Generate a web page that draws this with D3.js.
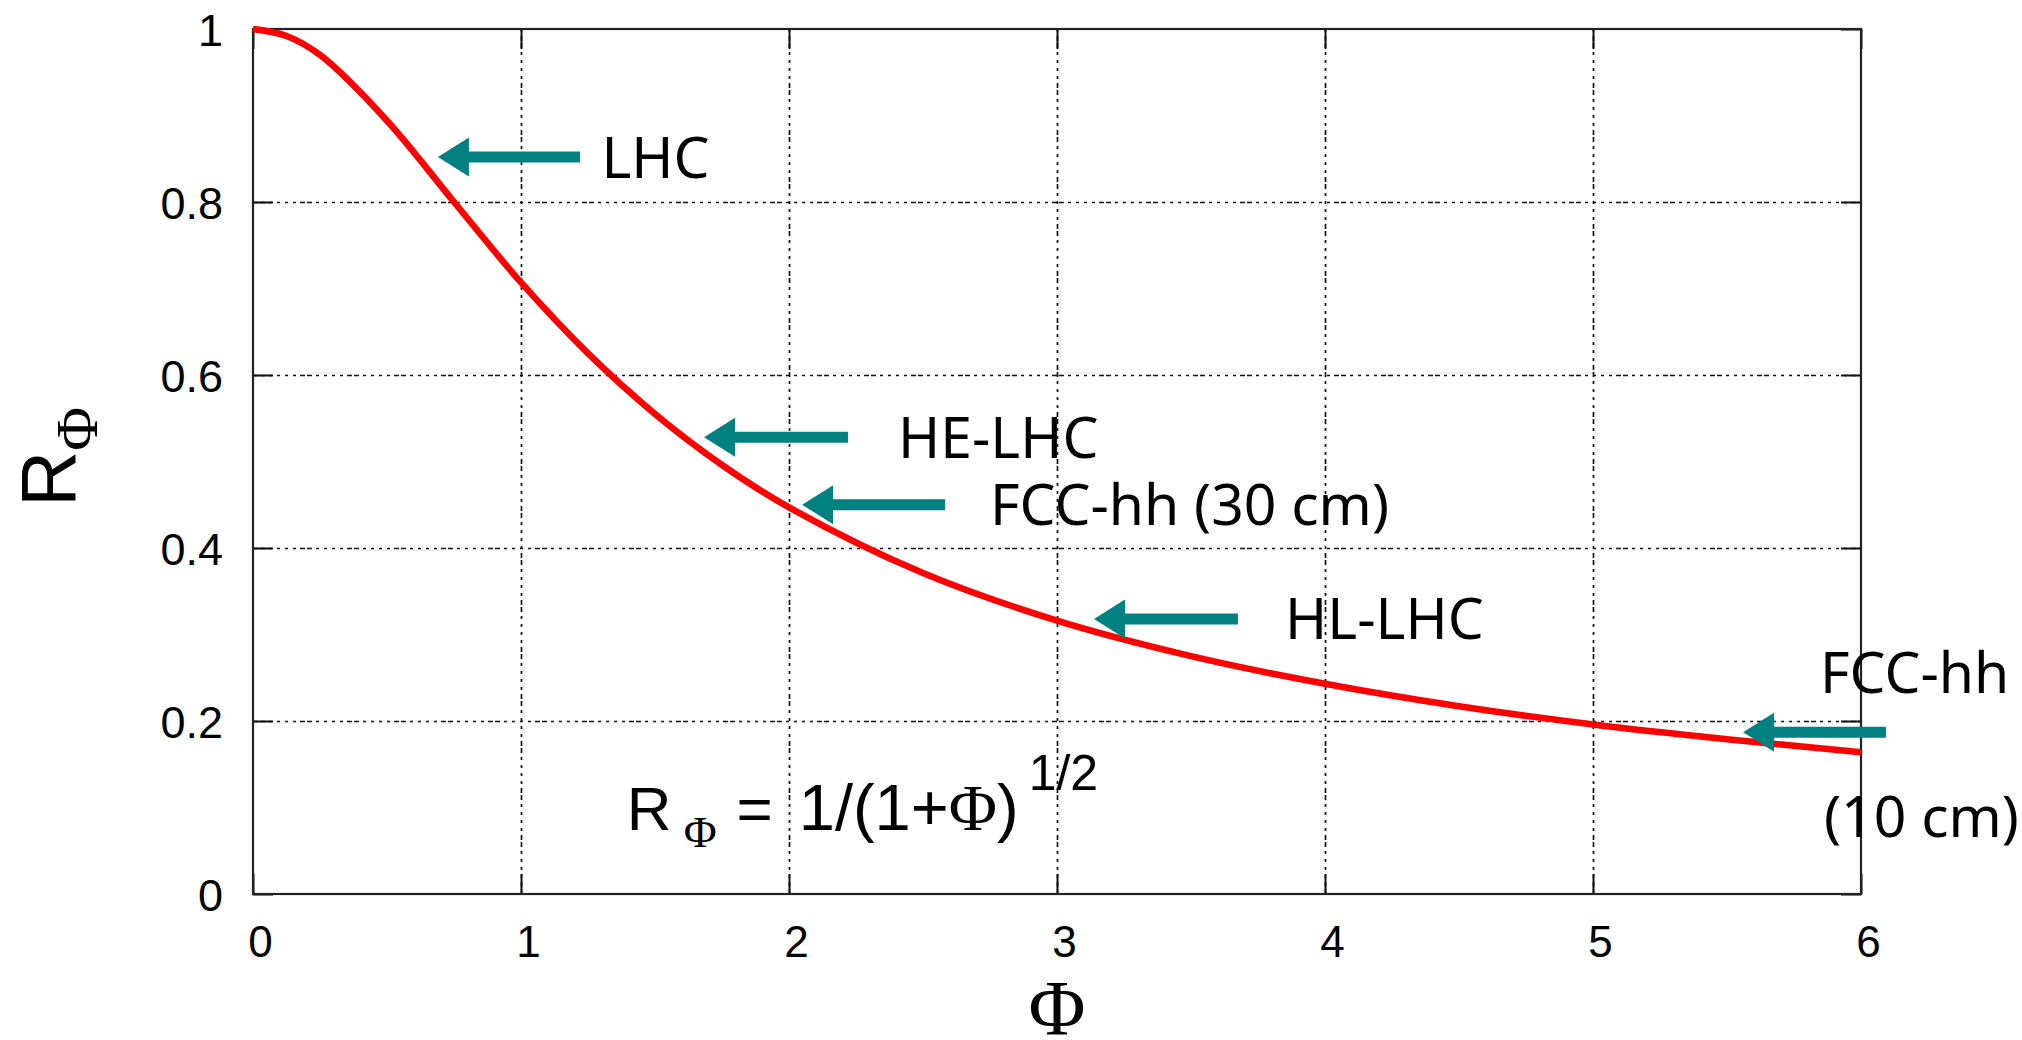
<!DOCTYPE html>
<html>
<head>
<meta charset="utf-8">
<script src="https://cdn.jsdelivr.net/npm/d3@7"></script>
<style>
	html, body { margin: 0; padding: 0; background: #fff; }
	svg { display: block; }
	.tick text { font-family: "Liberation Sans", Arial, sans-serif; fill: #000; }
	.note { font-family: "Noto Sans", sans-serif; fill: #000; }
</style>
</head>
<body>
<svg id="chart" width="2022" height="1040"></svg>
<script>
// curve R_phi
var phiValues = [0, 0.125, 0.25, 0.5, 0.75, 1, 1.25, 1.5, 1.75, 2, 2.5, 3, 3.5, 4, 4.5, 5, 5.5, 6];
var rValues   = [1.000, 0.992, 0.970, 0.894, 0.800, 0.707, 0.625, 0.555, 0.496, 0.447, 0.371, 0.316, 0.275, 0.243, 0.217, 0.196, 0.179, 0.164];

var xTicks = [0, 1, 2, 3, 4, 5, 6];
var yTicks = [0, 0.2, 0.4, 0.6, 0.8, 1];
var yTickLabels = ["0", "0.2", "0.4", "0.6", "0.8", "1"];

// arrows (tip / tail in phi, height in R)
var arrowTip  = [0.69, 1.683, 2.049, 3.138, 5.56];
var arrowTail = [1.22, 2.22, 2.582, 3.675, 6.093];
var arrowR    = [0.852, 0.528, 0.450, 0.318, 0.187];

var labelText = ["LHC", "HE-LHC", "FCC-hh (30 cm)", "HL-LHC", "FCC-hh", "(10 cm)"];
var labelPhi  = [1.30, 2.407, 2.75, 3.851, 5.847, 5.862];
var labelR    = [0.852, 0.528, 0.450, 0.318, 0.256, 0.090];

var margin = {top: 29, right: 161, bottom: 146, left: 253};
var W = 2022, H = 1040;
var innerW = W - margin.left - margin.right,
	innerH = H - margin.top - margin.bottom;

var svg = d3.select("#chart");
var g = svg.append("g").attr("transform", "translate(" + margin.left + "," + margin.top + ")");

var x = d3.scaleLinear().domain([0, 6]).range([0, innerW]);
var y = d3.scaleLinear().domain([0, 1]).range([innerH, 0]);

var dash = "5,2,5,4,3,5,3,5,3,5,3,4";

// grid
var gx = g.append("g").attr("transform", "translate(0," + innerH + ")")
	.call(d3.axisBottom(x).tickValues(xTicks.slice(1, -1)).tickSize(-innerH).tickFormat(""));
var gy = g.append("g")
	.call(d3.axisLeft(y).tickValues(yTicks.slice(1, -1)).tickSize(-innerW).tickFormat(""));
[gx, gy].forEach(function(a){
	a.select(".domain").remove();
	a.selectAll("line").attr("stroke", "#111").attr("stroke-width", 1.7).attr("stroke-dasharray", dash);
});

// inner ticks on all four sides
var tb = g.append("g").attr("transform", "translate(0," + innerH + ")")
	.call(d3.axisBottom(x).tickValues(xTicks).tickSize(-20).tickFormat(""));
var tt = g.append("g")
	.call(d3.axisTop(x).tickValues(xTicks).tickSize(-20).tickFormat(""));
var tl = g.append("g")
	.call(d3.axisLeft(y).tickValues(yTicks).tickSize(-20).tickFormat(""));
var tr = g.append("g").attr("transform", "translate(" + innerW + ",0)")
	.call(d3.axisRight(y).tickValues(yTicks).tickSize(-20).tickFormat(""));
[tb, tt, tl, tr].forEach(function(a){
	a.select(".domain").remove();
	a.selectAll("line").attr("stroke", "#111").attr("stroke-width", 2);
});

// tick labels
var lx = g.append("g").attr("transform", "translate(0," + innerH + ")")
	.call(d3.axisBottom(x).tickValues(xTicks).tickSize(0).tickPadding(0).tickFormat(d3.format("d")));
lx.select(".domain").remove();
lx.selectAll("text").attr("font-size", 44).attr("dx", 7).attr("y", 63).attr("dy", 0);

var ly = g.append("g")
	.call(d3.axisLeft(y).tickValues(yTicks).tickSize(0).tickPadding(30)
		.tickFormat(function(d, i){ return yTickLabels[i]; }));
ly.select(".domain").remove();
ly.selectAll("text").attr("font-size", 45).attr("dy", "0.36em");

// frame
g.append("rect").attr("x", 0).attr("y", 0).attr("width", innerW).attr("height", innerH)
	.attr("fill", "none").attr("stroke", "#222").attr("stroke-width", 2.2);

// curve
var line = d3.line()
	.x(function(d, i){ return x(phiValues[i]); })
	.y(function(d){ return y(d); })
	.curve(d3.curveCatmullRom);
g.append("path").datum(rValues)
	.attr("d", line)
	.attr("fill", "none")
	.attr("stroke", "#ff0000")
	.attr("stroke-width", 6.5);

// arrows
var shaft = 5.5, headLen = 31, headHalf = 19.5;
arrowTip.forEach(function(t, i){
	var x0 = x(t), x1 = x(arrowTail[i]), yy = y(arrowR[i]);
	var pts = [
		[x0, yy],
		[x0 + headLen, yy - headHalf],
		[x0 + headLen, yy - shaft],
		[x1, yy - shaft],
		[x1, yy + shaft],
		[x0 + headLen, yy + shaft],
		[x0 + headLen, yy + headHalf]
	];
	g.append("polygon").attr("points", pts.map(function(p){ return p.join(","); }).join(" "))
		.attr("fill", "#008080");
});

labelText.forEach(function(t, i){
	g.append("text").attr("class", "note")
		.attr("x", x(labelPhi[i])).attr("y", y(labelR[i]))
		.attr("dy", "0.36em")
		.attr("font-size", 57)
		.text(t);
});

// formula
var f = g.append("text")
	.attr("x", x(1.395)).attr("y", y(0.074))
	.attr("font-family", "Liberation Sans, Arial, sans-serif")
	.attr("font-size", 62);
f.append("tspan").text("R");
f.append("tspan").attr("font-family", "Liberation Serif, serif").attr("font-size", 45).attr("dx", 12).attr("dy", 17).text("Φ");
f.append("tspan").attr("dy", -17).attr("dx", 20).text("=");
f.append("tspan").attr("dx", 26).attr("font-size", 65).text("1/(1+");
f.append("tspan").attr("font-family", "Liberation Serif, serif").attr("font-size", 66).text("Φ");
f.append("tspan").attr("font-size", 65).text(")");
f.append("tspan").attr("font-size", 50).attr("dy", -40).attr("dx", 10).text("1/2");

// axis titles
svg.append("text")
	.attr("x", margin.left + x(3)).attr("y", 1034)
	.attr("text-anchor", "middle")
	.attr("font-family", "Liberation Serif, serif")
	.attr("font-size", 78)
	.text("Φ");

var yt = svg.append("text")
	.attr("transform", "translate(75,507) rotate(-90)")
	.attr("font-family", "Liberation Sans, Arial, sans-serif")
	.attr("font-size", 78);
yt.append("tspan").text("R");
yt.append("tspan").attr("font-family", "Liberation Serif, serif").attr("font-size", 60).attr("dy", 22).text("Φ");
</script>
</body>
</html>
